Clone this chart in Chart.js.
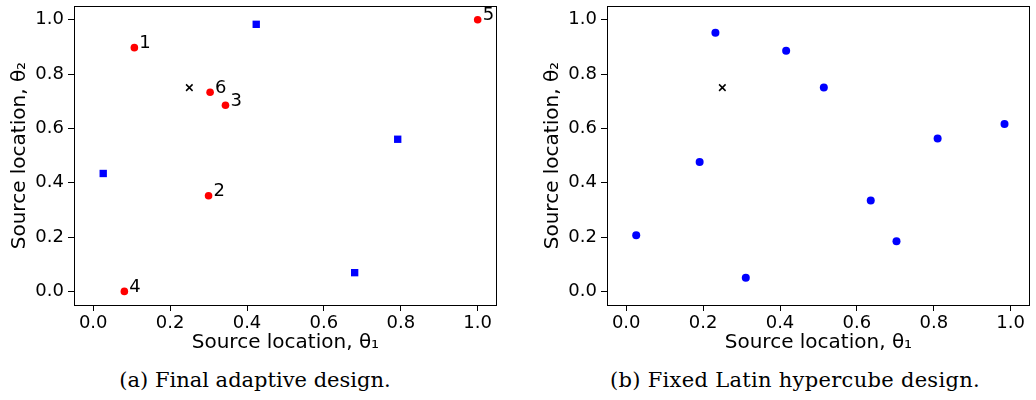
<!DOCTYPE html>
<html>
<head>
<meta charset="utf-8">
<script src="https://cdn.jsdelivr.net/npm/chart.js@4"></script>
<style>
body { margin: 0; background: #fff; width: 1036px; height: 400px; position: relative; overflow: hidden; }
.box { position: absolute; top: 0; width: 503px; height: 355px; }
.cap { position: absolute; top: 368px; width: 520px; text-align: center; font-family: "DejaVu Serif"; font-size: 21px; color: #000; }
</style>
</head>
<body>
<div class="box" style="left:0"><canvas id="adaptive-chart"></canvas></div>
<div class="box" style="left:533px"><canvas id="lhc-chart"></canvas></div>
<div class="cap" style="left:-5px">(a) Final adaptive design.</div>
<div class="cap" style="left:535px;letter-spacing:0.3px">(b) Fixed Latin hypercube design.</div>
<script>
// adaptive design points, numbered in the order they were picked
const designX = [0.107, 0.300, 0.344, 0.081, 1.000, 0.304];
const designY = [0.897, 0.352, 0.685, 0.000, 1.000, 0.733];
const designLabels = ['1', '2', '3', '4', '5', '6'];
// initial design
const initialX = [0.424, 0.026, 0.792, 0.680];
const initialY = [0.983, 0.434, 0.560, 0.069];
// true source
const trueX = [0.25];
const trueY = [0.75];
// latin hypercube design
const lhcX = [0.026, 0.191, 0.232, 0.311, 0.416, 0.514, 0.636, 0.703, 0.810, 0.984];
const lhcY = [0.207, 0.476, 0.952, 0.050, 0.886, 0.750, 0.335, 0.185, 0.563, 0.616];
const tickValues = [0, 0.2, 0.4, 0.6, 0.8, 1.0];

const toPoints = (xs, ys) => xs.map((x, i) => ({ x: x, y: ys[i] }));

const tickFont = { family: 'DejaVu Sans', size: 18 };
const titleFont = { family: 'DejaVu Sans', size: 20 };

function makeAxis(title, isX) {
    return {
        type: 'linear',
        min: -0.05,
        max: 1.05,
        afterBuildTicks: s => { s.ticks = tickValues.map(v => ({ value: v })); },
        ticks: { color: '#000', font: tickFont, padding: isX ? 2 : 4, maxRotation: 0, autoSkip: false,
                 callback: v => v.toFixed(1) },
        grid: { drawOnChartArea: false, tickLength: 6, tickColor: '#000', tickWidth: 1 },
        border: { color: '#000', width: 1 },
        title: { display: true, text: title, color: '#000', font: titleFont,
                 padding: isX ? { top: 0, bottom: 0 } : { top: 8, bottom: 0 } },
        afterFit: s => {
            if (isX) s.height = 50; else s.width = 74;
            s.paddingLeft = s.paddingRight = s.paddingTop = s.paddingBottom = 0;
        }
    };
}

const frame = {
    id: 'frame',
    afterDraw(chart) {
        const a = chart.chartArea, ctx = chart.ctx;
        ctx.save();
        ctx.strokeStyle = '#000';
        ctx.lineWidth = 1;
        ctx.strokeRect(Math.round(a.left) + 0.5, Math.round(a.top) + 0.5,
                       Math.round(a.right - a.left) - 1, Math.round(a.bottom - a.top));
        ctx.restore();
    }
};

const pointNumbers = {
    id: 'pointNumbers',
    afterDatasetsDraw(chart) {
        const ctx = chart.ctx;
        chart.data.datasets.forEach((ds, i) => {
            if (!ds.numbers) return;
            chart.getDatasetMeta(i).data.forEach((el, j) => {
                ctx.save();
                ctx.fillStyle = '#000';
                ctx.font = '18px "DejaVu Sans"';
                ctx.textBaseline = 'middle';
                ctx.fillText(ds.numbers[j], el.x + 5, el.y - 4);
                ctx.restore();
            });
        });
    }
};

function makeOptions() {
    return {
        responsive: true,
        maintainAspectRatio: false,
        animation: false,
        layout: { padding: { top: 3, right: 1, left: 0, bottom: 0 } },
        plugins: { legend: { display: false }, tooltip: { enabled: false } },
        scales: {
            x: makeAxis('Source location, θ₁', true),
            y: makeAxis('Source location, θ₂', false)
        }
    };
}

new Chart(document.getElementById('adaptive-chart'), {
    type: 'scatter',
    data: {
        datasets: [
            { data: toPoints(initialX, initialY), pointStyle: 'rect', pointRadius: 5.2,
              backgroundColor: '#0000ff', borderWidth: 0 },
            { data: toPoints(designX, designY), numbers: designLabels, pointStyle: 'circle', pointRadius: 3.8,
              backgroundColor: '#ff0000', borderWidth: 0 },
            { data: toPoints(trueX, trueY), pointStyle: 'crossRot', pointRadius: 4.6,
              borderColor: '#000', borderWidth: 1.5 }
        ]
    },
    options: makeOptions(),
    plugins: [frame, pointNumbers]
});

new Chart(document.getElementById('lhc-chart'), {
    type: 'scatter',
    data: {
        datasets: [
            { data: toPoints(lhcX, lhcY), pointStyle: 'circle', pointRadius: 4,
              backgroundColor: '#0000ff', borderWidth: 0 },
            { data: toPoints(trueX, trueY), pointStyle: 'crossRot', pointRadius: 4.6,
              borderColor: '#000', borderWidth: 1.5 }
        ]
    },
    options: makeOptions(),
    plugins: [frame]
});
</script>
</body>
</html>
